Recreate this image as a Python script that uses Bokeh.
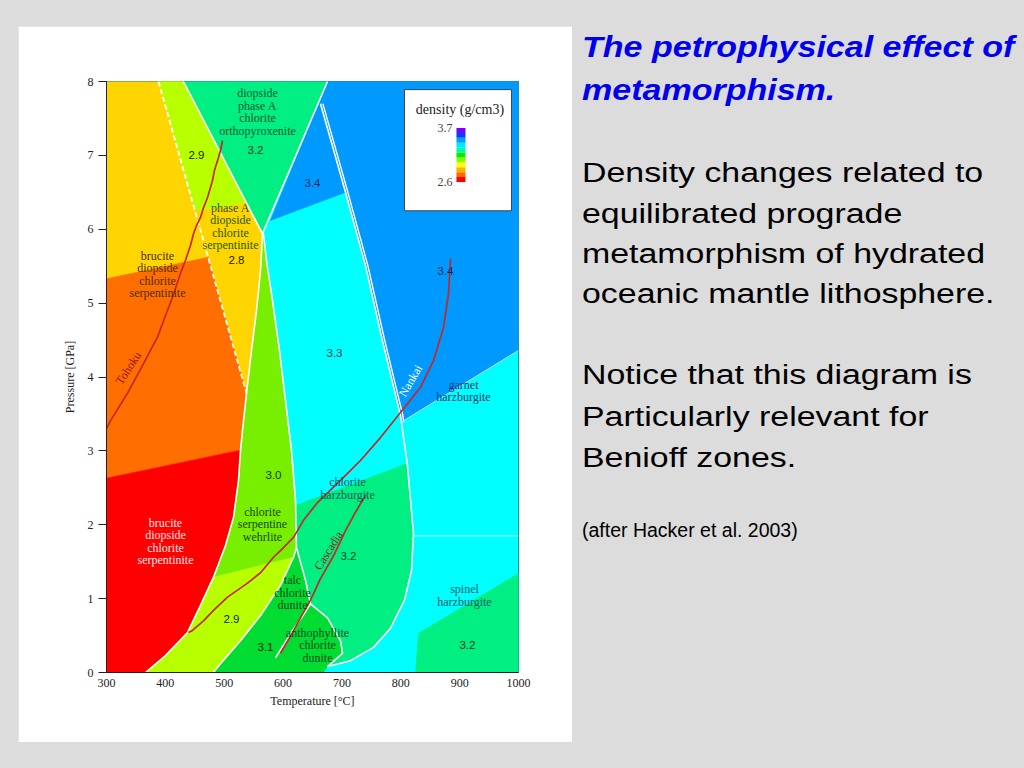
from bokeh.plotting import figure
from bokeh.models import Range1d, FixedTicker, Label, ColumnDataSource, Spacer, Div
from bokeh.layouts import row, column
from bokeh.embed import file_html
from bokeh.resources import INLINE
from bokeh.core.properties import value

SERIF = "Liberation Serif"
SANS = "Liberation Sans"

# ---------------- axes ----------------
x_ticks = [300, 400, 500, 600, 700, 800, 900, 1000]
y_ticks = [0, 1, 2, 3, 4, 5, 6, 7, 8]

# density -> colour
dens_color = {2.6: "#ff0000", 2.7: "#ff6e00", 2.8: "#ffd500", 2.9: "#b8ff00",
              3.0: "#78ee00", 3.1: "#00dc32", 3.2: "#00ee82", 3.3: "#00ffff",
              3.4: "#0099ff"}

# ---------------- phase-field boundaries (T degC, P GPa) ----------------
LL_T = [565.0, 561.7, 554.9, 546.4, 537.9, 531.1, 527.7, 524.3, 515.8, 502.2, 481.8, 459.7, 437.6, 400.2, 366.3]
LL_P = [5.94, 5.44, 4.90, 4.36, 3.78, 3.28, 3.01, 2.60, 2.10, 1.72, 1.29, 0.91, 0.54, 0.23, 0.0]
LR_T = [566.7, 571.8, 582.0, 593.9, 604.1, 614.3, 621.1, 622.8]
LR_P = [5.94, 5.58, 5.04, 4.36, 3.68, 3.01, 2.33, 1.69]
G31L_T = [622.8, 617.7, 595.6, 561.7, 527.7, 493.7, 481.8]
G31L_P = [1.69, 1.56, 1.18, 0.77, 0.43, 0.12, 0.0]
talc_T = [622.8, 638.1, 646.6]
talc_P = [1.69, 1.25, 0.93]
lobe_T = [646.6, 675.5, 697.6, 701.0, 675.5]
lobe_P = [0.93, 0.74, 0.43, 0.26, 0.08]
HC_T = [821.6, 818.2, 806.3, 782.5, 753.6, 714.6, 675.5]
HC_P = [1.88, 1.38, 0.98, 0.60, 0.34, 0.16, 0.08]
DL_T = [663.6, 706.1, 740.0, 768.9, 799.5, 801.0, 811.0, 821.6]
DL_P = [7.70, 6.50, 5.51, 4.49, 3.48, 3.39, 2.83, 1.88]
inner_T = [587.1, 600.0, 616.0, 632.0, 646.6]
inner_P = [0.20, 0.36, 0.57, 0.75, 0.93]
Vleft_T = [430.8, 565.0]
Vleft_P = [8.0, 5.94]
Vright_T = [675.5, 565.0]
Vright_P = [8.0, 5.94]
dash_T = [388.3, 537.9]
dash_P = [8.0, 3.78]
garnet_T = [801.0, 1000.0]
garnet_P = [3.39, 4.36]
spinel_T = [821.6, 1000.0]
spinel_P = [1.85, 1.85]

# ---------------- fields ----------------
cyan_T = [300, 1000, 1000, 300]
cyan_P = [0, 0, 8, 8]
blue_T = [675.5, 1000, 1000, 801.0, 799.5, 768.9, 740.0, 706.1, 578.6]
blue_P = [8.0, 8.0, 4.36, 3.39, 3.48, 4.49, 5.51, 6.50, 6.12]
opx_T = [430.8, 675.5, 565.0]
opx_P = [8.0, 8.0, 5.94]
yellow_T = [300, 430.8] + LL_T + [300]
yellow_P = [8.0, 8.0] + LL_P + [0.0]
strip_T = [388.3, 430.8, 537.8, 450.2]
strip_P = [8.0, 8.0, 6.36, 6.25]
orange_T = [300, 472.7, 537.9, 531.1, 527.7, 300]
orange_P = [5.33, 5.62, 3.78, 3.28, 3.01, 2.63]
red_T = [300] + LL_T[6:] + [300]
red_P = [2.63] + LL_P[6:] + [0.0]
lime_T = LL_T[:11] + [617.7] + LR_T[::-1]
lime_P = LL_P[:11] + [1.56] + LR_P[::-1]
low29_T = LL_T[10:][::-1] + G31L_T[1:]
low29_P = LL_P[10:][::-1] + G31L_P[1:]
g31_T = G31L_T[::-1] + talc_T[1:] + lobe_T[1:] + [668.0]
g31_P = G31L_P[::-1] + talc_P[1:] + lobe_P[1:] + [0.0]
mint_T = [621.3, 811.0] + HC_T + lobe_T[::-1][1:] + talc_T[::-1][1:]
mint_P = [2.26, 2.83] + HC_P + lobe_P[::-1][1:] + talc_P[::-1][1:]
lowright_T = [825.0, 830.1, 1000, 1000]
lowright_P = [0.0, 0.53, 1.34, 0.0]

fields = [(cyan_T, cyan_P, 3.3), (blue_T, blue_P, 3.4), (opx_T, opx_P, 3.2),
          (yellow_T, yellow_P, 2.8), (strip_T, strip_P, 2.9), (orange_T, orange_P, 2.7),
          (red_T, red_P, 2.6), (lime_T, lime_P, 3.0), (low29_T, low29_P, 2.9),
          (g31_T, g31_P, 3.1), (mint_T, mint_P, 3.2), (lowright_T, lowright_P, 3.2)]

# ---------------- subduction paths ----------------
tohoku_T = [497.1, 493.7, 490.3, 483.5, 480.1, 475.0, 471.6, 464.8, 459.7, 452.9, 447.8, 442.7, 434.2, 425.7, 412.1, 400.2, 386.6, 362.9, 335.7, 306.8, 300.0]
tohoku_P = [7.20, 7.07, 6.97, 6.80, 6.66, 6.52, 6.43, 6.29, 6.16, 6.05, 5.94, 5.78, 5.58, 5.40, 5.08, 4.83, 4.54, 4.18, 3.78, 3.41, 3.30]
nankai_T = [884.5, 882.8, 881.1, 872.6, 855.6, 833.5, 799.5, 765.5, 731.5, 702.7, 658.5, 634.7, 617.7, 595.6, 583.7, 561.7, 539.6, 505.6, 481.8, 464.8, 446.1, 439.3]
nankai_P = [5.60, 5.37, 5.13, 4.67, 4.22, 3.86, 3.52, 3.18, 2.87, 2.64, 2.30, 2.06, 1.83, 1.65, 1.56, 1.35, 1.21, 1.02, 0.84, 0.70, 0.57, 0.54]
cascadia_T = [595.6, 612.6, 629.6, 646.6, 663.6, 685.7, 706.1, 723.1, 740.0]
cascadia_P = [0.26, 0.49, 0.74, 0.98, 1.27, 1.58, 1.92, 2.17, 2.40]

path_names = ["Tohoku", "Nankai", "Cascadia"]
path_label_T = [337.4, 816.5, 677.2]
path_label_P = [4.12, 3.95, 1.65]
path_label_angle = [0.99, 1.04, 1.01]
path_label_color = ["#a01010", "#ffffff", "#8b1a1a"]

# ---------------- labels ----------------
lab_text = ["diopside\nphase A\nchlorite\northopyroxenite", "phase A\ndiopside\nchlorite\nserpentinite",
            "brucite\ndiopside\nchlorite\nserpentinite", "garnet\nharzburgite", "chlorite\nharzburgite",
            "chlorite\nserpentine\nwehrlite", "brucite\ndiopside\nchlorite\nserpentinite",
            "talc\nchlorite\ndunite", "spinel\nharzburgite", "anthophyllite\nchlorite\ndunite"]
lab_T = [556.6, 510.7, 386.6, 906.5, 709.5, 565.0, 400.2, 616.0, 908.2, 658.5]
lab_P = [7.59, 6.04, 5.39, 3.81, 2.49, 2.01, 1.77, 1.08, 1.04, 0.37]
lab_color = ["#00582c", "#2a5a00", "#4a3000", "#0a3a6a", "#005a5a", "#1a4a00", "#ffe6e6",
             "#004a1a", "#005a6a", "#004a1a"]

num_text = ["3.2", "2.9", "3.4", "2.8", "3.4", "3.3", "3.0", "3.2", "2.9", "3.1", "3.2"]
num_T = [553.2, 452.9, 650.0, 520.9, 876.0, 687.4, 583.7, 711.2, 512.4, 570.1, 913.3]
num_P = [7.07, 7.01, 6.62, 5.59, 5.44, 4.32, 2.67, 1.58, 0.72, 0.35, 0.37]
num_color = ["#003a1a", "#1a1a00", "#0a2a5a", "#222200", "#0a2a5a", "#003a3a", "#1a3a00",
             "#003a1a", "#1a2a00", "#002a0a", "#003a1a"]

# colour bar legend
cbar_values = [2.6, 2.7, 2.8, 2.9, 3.0, 3.1, 3.2, 3.3, 3.4, 3.5, 3.6, 3.7]
cbar_colors = ["#ff0000", "#ff6a00", "#ffb000", "#ffff00", "#88ff00", "#00ee00",
               "#00ff99", "#00e8ff", "#00a0ff", "#0040ff", "#7a00ff"]

# ---------------- right-hand text ----------------
title_lines = ["The petrophysical effect of", "metamorphism."]
body1_lines = ["Density changes related to", "equilibrated prograde",
               "metamorphism of hydrated", "oceanic mantle lithosphere."]
body2_lines = ["Notice that this diagram is", "Particularly relevant for", "Benioff zones."]
credit_line = "(after Hacker et al. 2003)"

# ======================= chart =======================
p = figure(frame_width=412, frame_height=591, x_range=Range1d(300, 1000), y_range=Range1d(0, 8),
           toolbar_location=None, output_backend="svg",
           min_border_left=88, min_border_right=54, min_border_top=55, min_border_bottom=70)
p.border_fill_color = "white"
p.background_fill_color = "white"
p.outline_line_color = "#333333"
p.outline_line_width = 1
p.grid.visible = False

src = ColumnDataSource(dict(xs=[f[0] for f in fields], ys=[f[1] for f in fields],
                            c=[dens_color[f[2]] for f in fields]))
p.patches("xs", "ys", source=src, fill_color="c", line_color="c", line_width=0.6)

white_lines = [(Vleft_T, Vleft_P), (Vright_T, Vright_P), (LL_T, LL_P), (LR_T, LR_P),
               (G31L_T, G31L_P), (talc_T, talc_P), (lobe_T, lobe_P), (inner_T, inner_P),
               (DL_T, DL_P), (HC_T, HC_P)]
p.multi_line([w[0] for w in white_lines], [w[1] for w in white_lines], line_color="white", line_width=1.6)
# second strand of the double boundary
p.line([t + 4.0 for t in DL_T[:6]], DL_P[:6], line_color="white", line_width=1.4)
p.line(dash_T, dash_P, line_color="white", line_width=1.8, line_dash="5 3")
p.multi_line([garnet_T, spinel_T], [garnet_P, spinel_P], line_color="#d8f4ff", line_width=1.0, line_alpha=0.85)

for T, P in [(tohoku_T, tohoku_P), (nankai_T, nankai_P), (cascadia_T, cascadia_P)]:
    p.line(T, P, line_color="#c62828", line_width=1.7)

# multi-line field labels
dP = 12.5 * 8 / 591
lx, ly, lt, lc = [], [], [], []
for txt, T, P, c in zip(lab_text, lab_T, lab_P, lab_color):
    lines = txt.split("\n")
    n = len(lines)
    for k, s in enumerate(lines):
        lx.append(T); ly.append(P + (n - 1) / 2 * dP - k * dP); lt.append(s); lc.append(c)
p.text(lx, ly, text=lt, text_color=lc, text_font=value(SERIF), text_font_size="12px",
       text_align="center", text_baseline="middle")
p.text(num_T, num_P, text=num_text, text_color=num_color, text_font=value(SANS),
       text_font_size="11.5px", text_align="center", text_baseline="middle")

for name, T, P, a, c in zip(path_names, path_label_T, path_label_P, path_label_angle, path_label_color):
    p.add_layout(Label(x=T, y=P, text=name, angle=a, text_color=c, text_font=SERIF,
                       text_font_size="12px", text_align="center", text_baseline="middle"))

# legend box + colour bar
p.quad(left=[806.3], right=[988.1], bottom=[6.25], top=[7.89], fill_color="white",
       line_color="#444444", line_width=1)
cb_lo, cb_hi = 6.64, 7.37
def cbar_y(v):
    return cb_lo + (v - cbar_values[0]) / (cbar_values[-1] - cbar_values[0]) * (cb_hi - cb_lo)
p.quad(left=894.6, right=909.9, bottom=[cbar_y(v) for v in cbar_values[:-1]],
       top=[cbar_y(v) for v in cbar_values[1:]], fill_color=cbar_colors, line_color=None)
p.text([900.6], [7.62], text=["density (g/cm3)"], text_font=value(SERIF), text_font_size="14px",
       text_color="#222222", text_align="center", text_baseline="middle")
p.text([887.9, 887.9], [cbar_y(cbar_values[-1]), cbar_y(cbar_values[0])],
       text=["%.1f" % cbar_values[-1], "%.1f" % cbar_values[0]], text_font=value(SERIF),
       text_font_size="12px", text_color="#444444", text_align="right", text_baseline="middle")

p.add_layout(Label(x=650, y=8.15, text="harzburgite", text_font=SERIF, text_font_size="15px",
                   text_color="#222222", text_align="center", text_baseline="middle"))

p.xaxis.ticker = FixedTicker(ticks=x_ticks)
p.yaxis.ticker = FixedTicker(ticks=y_ticks)
p.xaxis.axis_label = "Temperature [°C]"
p.yaxis.axis_label = "Pressure [GPa]"
for ax in (p.xaxis, p.yaxis):
    ax.major_label_text_font = SERIF
    ax.major_label_text_font_size = "12px"
    ax.major_label_text_color = "#222222"
    ax.axis_label_text_font = SERIF
    ax.axis_label_text_font_size = "12px"
    ax.axis_label_text_font_style = "normal"
    ax.axis_label_text_color = "#222222"
    ax.axis_line_color = "#222222"
    ax.minor_tick_line_color = None
    ax.major_tick_in = 0
p.xaxis.major_tick_out = 0
p.xaxis.major_label_standoff = 6
p.xaxis.axis_label_standoff = 4
p.yaxis.major_tick_out = 8
p.yaxis.major_tick_line_color = "#222222"
p.yaxis.major_label_standoff = 5
p.yaxis.axis_label_standoff = 8

# ======================= text panel (HTML, page-pixel layout) =======================
PANEL_TOP = 26
ASC = 0.8465          # baseline offset of Liberation Sans for line-height 1

def line_html(s, baseline, size, sx, color, style):
    top = baseline - PANEL_TOP - ASC * size
    return ('<div style="position:absolute;left:10px;top:%.1fpx;font-family:\'Liberation Sans\',Arial,sans-serif;'
            'font-size:%.1fpx;line-height:1;white-space:nowrap;color:%s;%s'
            'transform:scaleX(%.3f);transform-origin:0 0;">%s</div>' % (top, size, color, style, sx, s))

title_base = [57.0, 100.0]
body_base = [183.0, 223.5, 263.5, 303.5, 385.0, 426.5, 468.0]
credit_base = 537.5
parts = []
for s, b in zip(title_lines, title_base):
    parts.append(line_html(s, b, 30.0, 1.134, "#0000ee", "font-weight:bold;font-style:italic;"))
for s, b in zip(body1_lines + body2_lines, body_base):
    parts.append(line_html(s, b, 27.0, 1.255, "#000000", ""))
parts.append(line_html(credit_line, credit_base, 19.5, 1.0, "#000000", ""))
panel_html = '<div style="position:relative;width:444px;height:716px;">' + "".join(parts) + "</div>"
text_panel = Div(text=panel_html, width=444, height=716, margin=(0, 0, 0, 0))

root = column(Spacer(width=1016, height=26),
              row(Spacer(width=18, height=716), p, text_panel))

html = file_html(root, INLINE, title="petrophysical effect of metamorphism")
html = html.replace("</head>", "<style>html,body{background:#dcdcdc;}</style></head>", 1)
open("out.html", "w").write(html)
